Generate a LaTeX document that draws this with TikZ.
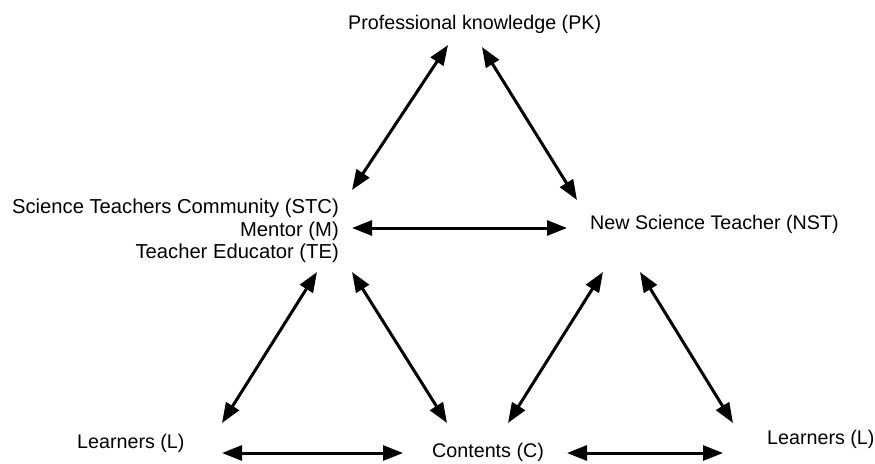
\documentclass[tikz,border=0pt]{standalone}
\usepackage{fontspec}
\setmainfont{Liberation Sans}
\usetikzlibrary{arrows.meta}
\begin{document}
\begin{tikzpicture}[x=1pt,y=-1pt,
  lbl/.style={inner sep=0pt, font=\fontsize{19.7}{22.5}\selectfont},
  dbl/.style={line width=3pt, {Triangle[length=20pt,width=15pt]}-{Triangle[length=20pt,width=15pt]}}]
\useasboundingbox (0,0) rectangle (875,463);
% labels
\node[lbl, anchor=west] (PK) at (348,24) {Professional knowledge (PK)};
\node[lbl, font=\fontsize{20.2}{22.6}\selectfont, anchor=east, align=right] (STC) at (339,231) {Science Teachers Community (STC)\\Mentor (M)\\Teacher Educator (TE)};
\node[lbl, anchor=west] (NST) at (590,224) {New Science Teacher (NST)};
\node[lbl, anchor=west] (L1) at (77,443) {Learners (L)};
\node[lbl, anchor=west] (C) at (432,452) {Contents (C)};
\node[lbl, anchor=west] (L2) at (767,439) {Learners (L)};
% connector endpoints
\coordinate (pk1) at (448,45);
\coordinate (pk2) at (482,47);
\coordinate (stcA) at (352,190);
\coordinate (stcB) at (352,228);
\coordinate (stcC) at (317,272);
\coordinate (stcD) at (352,272);
\coordinate (nstA) at (577,200);
\coordinate (nstB) at (567,228);
\coordinate (nstC) at (603,272);
\coordinate (nstD) at (640,272);
\coordinate (l1A) at (222,423);
\coordinate (l1B) at (222,453);
\coordinate (cA) at (447,423);
\coordinate (cB) at (508,423);
\coordinate (cC) at (403,453);
\coordinate (cD) at (567,453);
\coordinate (l2A) at (733,423);
\coordinate (l2B) at (723,453);
% connectors
\draw[dbl] (pk1) -- (stcA);
\draw[dbl] (pk2) -- (nstA);
\draw[dbl] (stcB) -- (nstB);
\draw[dbl] (stcC) -- (l1A);
\draw[dbl] (stcD) -- (cA);
\draw[dbl] (nstC) -- (cB);
\draw[dbl] (nstD) -- (l2A);
\draw[dbl] (l1B) -- (cC);
\draw[dbl] (cD) -- (l2B);
\end{tikzpicture}
\end{document}
